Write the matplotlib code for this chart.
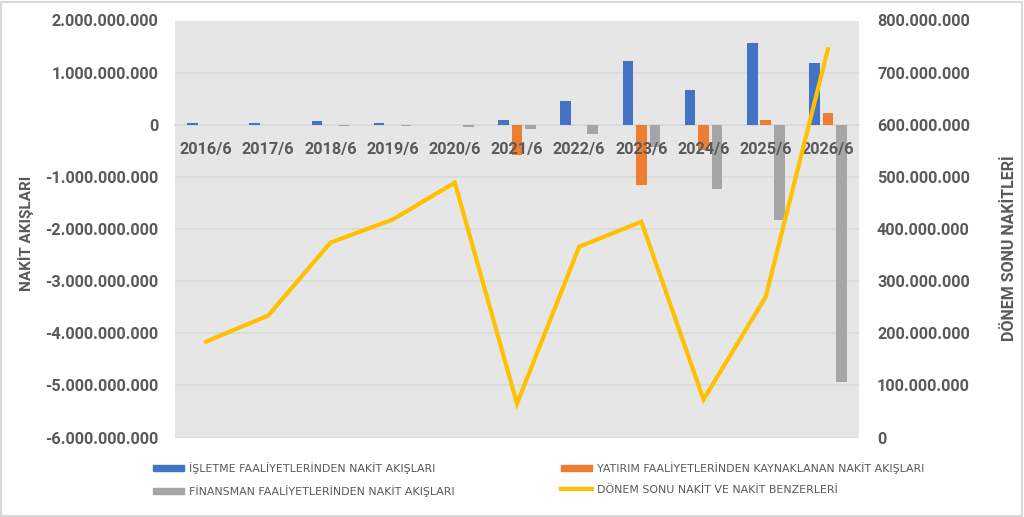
import numpy as np
import matplotlib
matplotlib.use("Agg")
import matplotlib.pyplot as plt
from matplotlib.patches import Rectangle
from matplotlib.lines import Line2D
from matplotlib.ticker import FuncFormatter, MultipleLocator

# veriler (grafikten okunan tahmini degerler)
donemler = ["2016/6", "2017/6", "2018/6", "2019/6", "2020/6", "2021/6",
            "2022/6", "2023/6", "2024/6", "2025/6", "2026/6"]
isletme = [0.03e9, 0.03e9, 0.07e9, 0.03e9, 0.0, 0.09e9,
           0.45e9, 1.22e9, 0.66e9, 1.574e9, 1.18e9]
yatirim = [0.0, 0.0, 0.0, 0.0, 0.0, -0.58e9,
           0.0, -1.16e9, -0.48e9, 0.09e9, 0.225e9]
finansman = [0.0, 0.0, -0.02e9, -0.03e9, -0.05e9, -0.08e9,
             -0.17e9, -0.42e9, -1.23e9, -1.82e9, -4.93e9]
donem_sonu = [184e6, 234e6, 374e6, 418e6, 489e6, 65e6,
              366e6, 414e6, 73e6, 270e6, 745e6]

etiketler = ["İŞLETME FAALİYETLERİNDEN NAKİT AKIŞLARI",
             "YATIRIM FAALİYETLERİNDEN KAYNAKLANAN NAKİT AKIŞLARI",
             "FİNANSMAN FAALİYETLERİNDEN NAKİT AKIŞLARI",
             "DÖNEM SONU NAKİT VE NAKİT BENZERLERİ"]

MAVI = "#4472C4"
TURUNCU = "#ED7D31"
GRI = "#A5A5A5"
SARI = "#FFC000"
YAZI = "#595959"
ARKA = "#E7E6E6"
IZGARA = "#D9D9D9"

ana_font = ["Roboto", "DejaVu Sans"]
leg_font = ["Liberation Sans Narrow", "DejaVu Sans"]


def noktali(v, pos=None):
    return "{:,.0f}".format(v).replace(",", ".")


fig = plt.figure(figsize=(10.24, 5.17), dpi=100)
ax = fig.add_axes([175 / 1024, 1 - 437.5 / 517, 684 / 1024, 417 / 517])
ax.set_facecolor(ARKA)

x = np.arange(len(donemler))
w = 0.172
ofs = 0.217
ax.bar(x - ofs, isletme, w, color=MAVI, zorder=2)
ax.bar(x, yatirim, w, color=TURUNCU, zorder=2)
ax.bar(x + ofs, finansman, w, color=GRI, zorder=2)

ax.set_xlim(-0.5, len(donemler) - 0.5)
ax.set_ylim(-6e9, 2e9)
ax.yaxis.set_major_locator(MultipleLocator(1e9))
ax.yaxis.set_major_formatter(FuncFormatter(noktali))
ax.grid(axis="y", color=IZGARA, linewidth=1.2)
# izgara cubuklarin altinda, kategori yazilari ustunde
ax.yaxis.set_zorder(0.5)
ax.xaxis.set_zorder(5)

# kategori etiketleri sifir cizgisinin hemen altinda
ax.spines["bottom"].set_position(("data", 0))
ax.spines["bottom"].set_color(IZGARA)
ax.spines["bottom"].set_linewidth(1.2)
ax.spines["bottom"].set_zorder(1)
for s in ["top", "left", "right"]:
    ax.spines[s].set_visible(False)
ax.set_xticks(x)
ax.set_xticklabels(donemler)
ax.tick_params(axis="x", length=0, pad=12.5, labelsize=11.7, colors=YAZI)
ax.tick_params(axis="y", length=0, pad=12, labelsize=11.7, colors=YAZI)
for t in ax.get_xticklabels() + ax.get_yticklabels():
    t.set_family(ana_font)
    t.set_fontweight("bold")

ax.set_ylabel("NAKİT AKIŞLARI", family=ana_font, fontweight="bold",
              fontsize=11, color=YAZI)
ax.yaxis.set_label_coords(-0.206, 0.49)

ax2 = ax.twinx()
ax2.plot(x, donem_sonu, color=SARI, linewidth=3, solid_joinstyle="miter", zorder=3)
ax2.set_ylim(0, 800e6)
ax2.yaxis.set_major_locator(MultipleLocator(100e6))
ax2.yaxis.set_major_formatter(FuncFormatter(noktali))
ax2.tick_params(axis="y", length=0, pad=13, labelsize=11.7, colors=YAZI)
for t in ax2.get_yticklabels():
    t.set_family(ana_font)
    t.set_fontweight("bold")
for s in ax2.spines.values():
    s.set_visible(False)
ax2.set_ylabel("DÖNEM SONU NAKİTLERİ", family=ana_font, fontweight="bold",
               fontsize=11.5, color=YAZI)
ax2.yaxis.set_label_coords(1.209, 0.454)

# lejant: iki ayri sutun
h_mavi = Rectangle((0, 0), 1, 1, color=MAVI)
h_turuncu = Rectangle((0, 0), 1, 1, color=TURUNCU)
h_gri = Rectangle((0, 0), 1, 1, color=GRI)
h_sari = Line2D([], [], color=SARI, linewidth=3)

ortak = dict(frameon=False, handlelength=2.8, handleheight=0.55,
             handletextpad=0.45, labelspacing=1.0, borderpad=0, borderaxespad=0,
             labelcolor=YAZI, prop={"family": leg_font, "size": 7.9})
lg1 = fig.legend([h_mavi, h_gri], [etiketler[0], etiketler[2]], loc="upper left",
                 bbox_to_anchor=(153 / 1024, 1 - 462 / 517), **ortak)
lg2 = fig.legend([h_turuncu, h_sari], [etiketler[1], etiketler[3]], loc="upper left",
                 bbox_to_anchor=(561 / 1024, 1 - 462 / 517), **ortak)

# dis cerceve
fig.patches.append(Rectangle((0.001, 0.002), 0.997, 0.995, transform=fig.transFigure,
                             fill=False, edgecolor=IZGARA, linewidth=1.5))

fig.savefig("out.png", dpi=100)
